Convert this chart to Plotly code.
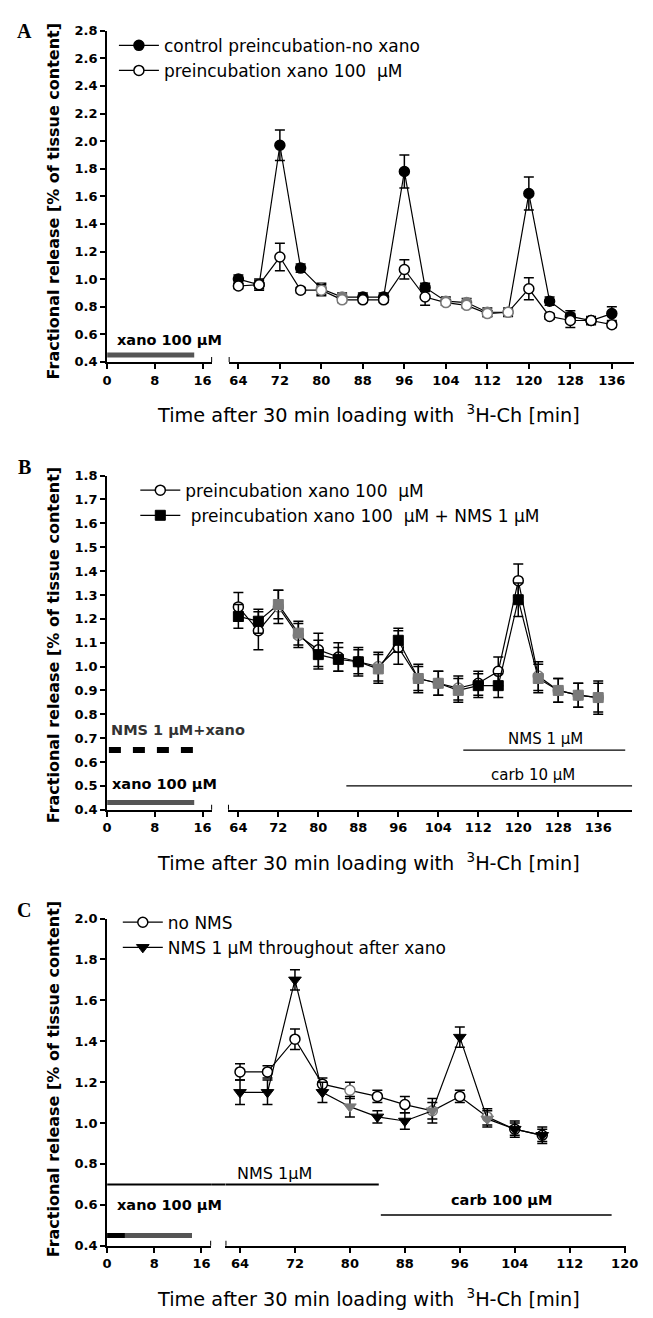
import plotly.graph_objects as go

W, H = 653, 1318

# ---------------- DATA ----------------
# Panel A
A_t = [64, 68, 72, 76, 80, 84, 88, 92, 96, 100, 104, 108, 112, 116, 120, 124, 128, 132, 136]
A_ctrl = [1.00, 0.96, 1.97, 1.08, 0.93, 0.87, 0.87, 0.87, 1.78, 0.94, 0.84, 0.83, 0.76, 0.76, 1.62, 0.84, 0.73, 0.70, 0.75]
A_ctrl_err = [0.03, 0.04, 0.11, 0.03, 0.04, 0.03, 0.03, 0.03, 0.12, 0.03, 0.03, 0.03, 0.03, 0.03, 0.12, 0.03, 0.04, 0.03, 0.05]
A_xano = [0.95, 0.96, 1.16, 0.92, 0.92, 0.85, 0.85, 0.85, 1.07, 0.87, 0.83, 0.81, 0.75, 0.76, 0.93, 0.73, 0.70, 0.70, 0.67]
A_xano_err = [0.02, 0.03, 0.10, 0.02, 0.04, 0.02, 0.02, 0.02, 0.07, 0.06, 0.02, 0.02, 0.02, 0.02, 0.08, 0.02, 0.05, 0.02, 0.02]

# Panel B
B_t = [64, 68, 72, 76, 80, 84, 88, 92, 96, 100, 104, 108, 112, 116, 120, 124, 128, 132, 136]
B_xano = [1.25, 1.15, 1.25, 1.13, 1.07, 1.04, 1.02, 1.00, 1.08, 0.95, 0.93, 0.91, 0.93, 0.98, 1.36, 0.96, 0.90, 0.88, 0.87]
B_xano_err = [0.06, 0.08, 0.07, 0.05, 0.07, 0.06, 0.06, 0.06, 0.07, 0.05, 0.05, 0.05, 0.05, 0.06, 0.07, 0.06, 0.05, 0.05, 0.07]
B_nms = [1.21, 1.19, 1.26, 1.14, 1.05, 1.03, 1.02, 0.99, 1.11, 0.95, 0.93, 0.90, 0.92, 0.92, 1.28, 0.95, 0.90, 0.88, 0.87]
B_nms_err = [0.05, 0.05, 0.06, 0.05, 0.06, 0.05, 0.05, 0.06, 0.05, 0.06, 0.05, 0.05, 0.05, 0.05, 0.07, 0.06, 0.05, 0.05, 0.06]

# Panel C
C_t = [64, 68, 72, 76, 80, 84, 88, 92, 96, 100, 104, 108]
C_none = [1.25, 1.25, 1.41, 1.19, 1.16, 1.13, 1.09, 1.06, 1.13, 1.03, 0.97, 0.94]
C_none_err = [0.04, 0.03, 0.05, 0.03, 0.04, 0.03, 0.04, 0.04, 0.03, 0.04, 0.03, 0.03]
C_nms = [1.15, 1.15, 1.70, 1.15, 1.08, 1.03, 1.01, 1.06, 1.42, 1.02, 0.97, 0.94]
C_nms_err = [0.06, 0.06, 0.05, 0.05, 0.05, 0.03, 0.04, 0.06, 0.05, 0.04, 0.04, 0.04]

# treatment periods (min)
A_xano_period = [0, 14.6]
B_nms_xano_period = [0.3, 14.5]
B_xano_period = [0, 14.6]
B_nms_period = [109, 141.4]
B_carb_period = [85.6, 142.8]
C_nms_left = [0, 17.65]
C_nms_right = [61.88, 84.2]
C_xano_period = [0, 14.4]
C_xano_start = [0, 3.0]
C_carb_period = [84.5, 118.1]

Y_TITLE = "Fractional release [% of tissue content]"
X_TITLE = "Time after 30 min loading with\u00a0\u00a0<sup>3</sup>H-Ch [min]"

FONT = "DejaVu Sans"
GREY = "#7a7a7a"

def px_x(p):
    return p / W

def px_y(p):
    return 1 - p / H

fig = go.Figure()

def err(v):
    return dict(type="data", array=v, visible=True, color="black", thickness=1.5, width=5)

def colors(ts, grey_ts, base="black"):
    return [GREY if t in grey_ts else base for t in ts]

# ---- Panel A traces
A_grey = [80, 84, 104, 108, 112, 116]
fig.add_trace(go.Scatter(x=A_t, y=A_ctrl, error_y=err(A_ctrl_err), xaxis="x2", yaxis="y",
                         mode="lines+markers", name="control preincubation-no xano",
                         line=dict(color="black", width=1.2),
                         marker=dict(symbol="circle", size=10, color=colors(A_t, A_grey),
                                     line=dict(color=colors(A_t, A_grey), width=1.5)),
                         legend="legend", legendgroup="a1"))
fig.add_trace(go.Scatter(x=A_t, y=A_xano, error_y=err(A_xano_err), xaxis="x2", yaxis="y",
                         mode="lines+markers", name="preincubation xano 100\u00a0\u00a0\u00b5M",
                         line=dict(color="black", width=1.2),
                         marker=dict(symbol="circle", size=10, color="white",
                                     line=dict(color=colors(A_t, A_grey), width=1.5)),
                         legend="legend", legendgroup="a2"))

# ---- Panel B traces
B_grey = [72, 76, 92, 100, 104, 108, 124, 128, 132, 136]
fig.add_trace(go.Scatter(x=B_t, y=B_xano, error_y=err(B_xano_err), xaxis="x4", yaxis="y2",
                         mode="lines+markers", name="preincubation xano 100\u00a0\u00a0\u00b5M",
                         line=dict(color="black", width=1.2),
                         marker=dict(symbol="circle", size=10, color="white",
                                     line=dict(color=colors(B_t, B_grey), width=1.5)),
                         legend="legend2", legendgroup="b1"))
fig.add_trace(go.Scatter(x=B_t, y=B_nms, error_y=err(B_nms_err), xaxis="x4", yaxis="y2",
                         mode="lines+markers", name="\u00a0preincubation xano 100\u00a0\u00a0\u00b5M + NMS 1 \u00b5M",
                         line=dict(color="black", width=1.2),
                         marker=dict(symbol="square", size=10, color=colors(B_t, B_grey),
                                     line=dict(color=colors(B_t, B_grey), width=1)),
                         legend="legend2", legendgroup="b2"))

# ---- Panel C traces
C_grey = [80, 92, 100]
fig.add_trace(go.Scatter(x=C_t, y=C_none, error_y=err(C_none_err), xaxis="x6", yaxis="y3",
                         mode="lines+markers", name="no NMS",
                         line=dict(color="black", width=1.2),
                         marker=dict(symbol="circle", size=10, color="white",
                                     line=dict(color=colors(C_t, C_grey), width=1.5)),
                         legend="legend3", legendgroup="c1"))
fig.add_trace(go.Scatter(x=C_t, y=C_nms, error_y=err(C_nms_err), xaxis="x6", yaxis="y3",
                         mode="lines+markers", name="NMS 1 \u00b5M throughout after xano",
                         line=dict(color="black", width=1.2),
                         marker=dict(symbol="triangle-down", size=11, color=colors(C_t, C_grey),
                                     line=dict(color=colors(C_t, C_grey), width=1)),
                         legend="legend3", legendgroup="c2"))

# ---- treatment bars (drawn as line traces on the data axes)
def bar(xr, yv, xa, ya, color, width, dash="solid"):
    fig.add_trace(go.Scatter(x=xr, y=[yv, yv], xaxis=xa, yaxis=ya, mode="lines",
                             line=dict(color=color, width=width, dash=dash),
                             showlegend=False, hoverinfo="skip", cliponaxis=False))

bar(A_xano_period, 0.45, "x", "y", "#555555", 5)
bar(B_nms_xano_period, 0.65, "x3", "y2", "black", 6, dash="12px,12px")
bar(B_xano_period, 0.43, "x3", "y2", "#555555", 5)
bar(B_nms_period, 0.65, "x4", "y2", "black", 1.4)
bar(B_carb_period, 0.50, "x4", "y2", "black", 1.4)
bar(C_nms_left, 0.70, "x5", "y3", "black", 2)
bar(C_nms_right, 0.70, "x6", "y3", "black", 2)
bar(C_xano_period, 0.45, "x5", "y3", "#555555", 5)
bar(C_xano_start, 0.45, "x5", "y3", "black", 5)
bar(C_carb_period, 0.55, "x6", "y3", "black", 1.4)

# ---------------- LAYOUT ----------------
tickfont = dict(family=FONT, size=13, color="black", weight="bold")
axis_common = dict(showline=True, linecolor="black", linewidth=2, ticks="outside",
                   ticklen=5, tickwidth=2, tickcolor="black", showgrid=False,
                   zeroline=False, tickfont=tickfont, fixedrange=True)

panels = [
    dict(yt=24, yb=359, yr=[0.4, 2.8], yt_vals=[0.4 + 0.2 * i for i in range(13)],
         lxr=[0, 17.6], lxd=[105, 213], rxd=[230, 646.7], rxr=[62.125, 140.25],
         rticks=list(range(64, 137, 8)), ytc=197),
    dict(yt=474, yb=812, yr=[0.4, 1.8], yt_vals=[0.4 + 0.1 * i for i in range(15)],
         lxr=[0, 17.6], lxd=[105, 213], rxd=[229.3, 645], rxr=[61.92, 142.8],
         rticks=list(range(64, 137, 8)), ytc=646),
    dict(yt=922, yb=1253, yr=[0.4, 2.0], yt_vals=[0.4 + 0.2 * i for i in range(9)],
         lxr=[0, 17.65], lxd=[105, 212], rxd=[226.7, 638.3], rxr=[61.88, 120.15],
         rticks=list(range(64, 121, 8)), ytc=1085),
]

layout = dict(width=W, height=H, margin=dict(l=0, r=0, t=0, b=0),
              paper_bgcolor="white", plot_bgcolor="rgba(0,0,0,0)",
              font=dict(family=FONT, color="black"))
annotations = []
shapes = []
for i, p in enumerate(panels):
    yn = "yaxis" if i == 0 else f"yaxis{i + 1}"
    yid = "y" if i == 0 else f"y{i + 1}"
    lx = 2 * i + 1
    rx = 2 * i + 2
    lxn = "xaxis" if lx == 1 else f"xaxis{lx}"
    lxid = "x" if lx == 1 else f"x{lx}"
    rxn = f"xaxis{rx}"
    rxid = f"x{rx}"
    layout[yn] = dict(axis_common, domain=[px_y(p["yb"]), px_y(p["yt"])], range=p["yr"],
                      tickvals=p["yt_vals"], ticktext=[f"{v:.1f}" for v in p["yt_vals"]],
                      anchor=lxid)
    layout[lxn] = dict(axis_common, domain=[px_x(p["lxd"][0]), px_x(p["lxd"][1])],
                       range=p["lxr"], tickvals=[0, 8, 16], anchor=yid)
    layout[rxn] = dict(axis_common, domain=[px_x(p["rxd"][0]), px_x(p["rxd"][1])],
                       range=p["rxr"], tickvals=p["rticks"], anchor=yid)
    # break caps at the axis ends
    for xr, xv in ((lxid, p["lxr"][1]), (rxid, p["rxr"][0])):
        shapes.append(dict(type="line", xref=xr, yref=yid, x0=xv, x1=xv,
                           ysizemode="pixel", yanchor=p["yr"][0], y0=-5, y1=5,
                           line=dict(color="black", width=2)))
    # x title
    annotations.append(dict(text=X_TITLE, xref="paper", yref="paper",
                            x=px_x(374), y=px_y(p["yb"] + 53), xanchor="center", yanchor="middle",
                            showarrow=False, font=dict(family=FONT, size=19.3, color="black")))
    # y title
    annotations.append(dict(text=Y_TITLE, xref="paper", yref="paper", textangle=-90,
                            x=px_x(50), y=px_y(p["ytc"]),
                            xanchor="center", yanchor="middle", showarrow=False,
                            font=dict(family=FONT, size=16, color="black", weight="bold")))

# NMS bar of panel C bridging the axis break (left axis end -> right axis start)
c = panels[2]
shapes.append(dict(type="line", xref="paper", yref="y3",
                   x0=px_x(c["lxd"][1]), x1=px_x(c["rxd"][0]), y0=0.70, y1=0.70,
                   line=dict(color="black", width=2)))

# panel letters
for letter, py in (("A", 24), ("B", 465), ("C", 913)):
    annotations.append(dict(text=letter, xref="paper", yref="paper", x=px_x(20), y=px_y(py),
                            xanchor="center", yanchor="middle", showarrow=False,
                            font=dict(family="Liberation Serif", size=20, color="black", weight="bold")))

lab = dict(family=FONT, size=15, color="black")
labb = dict(family=FONT, size=14.5, color="black", weight="bold")
annotations += [
    dict(text="xano 100 \u00b5M", xref="x", yref="y", x=1.4, y=0.56, xanchor="left",
         yanchor="middle", showarrow=False, font=labb),
    dict(text="NMS 1 \u00b5M+xano", xref="x3", yref="y2", x=0.3, y=0.735, xanchor="left",
         yanchor="middle", showarrow=False, font=dict(labb, color="#333333")),
    dict(text="xano 100 \u00b5M", xref="x3", yref="y2", x=0.5, y=0.51, xanchor="left",
         yanchor="middle", showarrow=False, font=labb),
    dict(text="NMS 1 \u00b5M", xref="x4", yref="y2", x=125.5, y=0.695, xanchor="center",
         yanchor="middle", showarrow=False, font=lab),
    dict(text="carb 10 \u00b5M", xref="x4", yref="y2", x=123.0, y=0.545, xanchor="center",
         yanchor="middle", showarrow=False, font=lab),
    dict(text="NMS 1\u00b5M", xref="x6", yref="y3", x=69.0, y=0.755, xanchor="center",
         yanchor="middle", showarrow=False, font=dict(lab, size=16)),
    dict(text="carb 100 \u00b5M", xref="x6", yref="y3", x=102.0, y=0.625, xanchor="center",
         yanchor="middle", showarrow=False, font=labb),
    dict(text="xano 100 \u00b5M", xref="x5", yref="y3", x=1.3, y=0.60, xanchor="left",
         yanchor="middle", showarrow=False, font=labb),
]

legfont = dict(family=FONT, size=17, color="black")
def leg(x, ytop):
    return dict(x=px_x(x), y=px_y(ytop), xref="paper", yref="paper", xanchor="left", yanchor="top",
                bgcolor="rgba(0,0,0,0)", font=legfont, itemwidth=40, tracegroupgap=1,
                borderwidth=0, traceorder="normal")

layout["legend"] = leg(112, 21)
layout["legend2"] = leg(134, 471)
layout["legend3"] = leg(116, 908)
layout["annotations"] = annotations
layout["shapes"] = shapes
layout["showlegend"] = True

fig.update_layout(**layout)
fig.write_html("out.html")
